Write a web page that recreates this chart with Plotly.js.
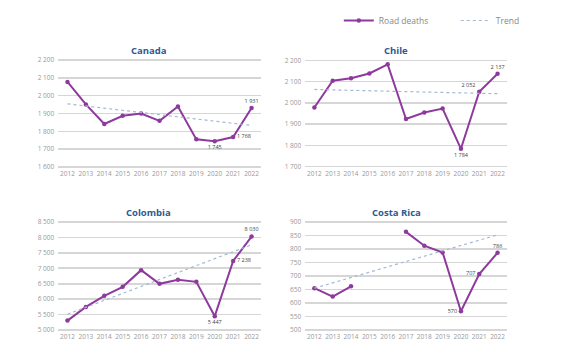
<!DOCTYPE html>
<html><head><meta charset="utf-8">
<script src="https://cdn.plot.ly/plotly-3.0.1.min.js"></script>
<style>html,body{margin:0;padding:0;background:#fff;}#c{width:573px;height:361px;}</style>
</head><body><div id="c"></div>
<script>
const years = [2012,2013,2014,2015,2016,2017,2018,2019,2020,2021,2022];
const canada = [2077,1951,1841,1887,1900,1859,1939,1755,1745,1768,1931];
const canadaTrend = [1954,1833];
const chile = [1978,2104,2116,2138,2181,1924,1955,1973,1784,2052,2137];
const chileTrend = [2063,2043];
const colombia = [5304,5748,6106,6398,6940,6496,6626,6561,5447,7238,8030];
const colombiaTrend = [5510,7763];
const costaRica = [655,624,662,null,null,863,812,787,570,707,786];
const costaRicaTrend = [655,852];
const trendYears = [2012,2022];
const countries = ["Canada","Chile","Colombia","Costa Rica"];
const yTicks = {
  Canada:[1600,1700,1800,1900,2000,2100,2200],
  Chile:[1700,1800,1900,2000,2100,2200],
  Colombia:[5000,5500,6000,6500,7000,7500,8000,8500],
  "Costa Rica":[500,550,600,650,700,750,800,850,900]
};
const labelPos = {
  Canada:{8:"bottom center",9:"middle right",10:"top center"},
  Chile:{8:"bottom center",9:"top left",10:"top center"},
  Colombia:{8:"bottom center",9:"middle right",10:"top center"},
  "Costa Rica":{8:"middle left",9:"middle left",10:"top center"}
};
function fmt(v){ return String(v).replace(/\B(?=(\d{3})+(?!\d))/g," "); }

const series = {Canada:canada, Chile:chile, Colombia:colombia, "Costa Rica":costaRica};
const trends = {Canada:canadaTrend, Chile:chileTrend, Colombia:colombiaTrend, "Costa Rica":costaRicaTrend};
const purple = "#8E3A9D";
const trendCol = "#A3B9D6";

const traces = [];
countries.forEach((c,i)=>{
  const ax = i===0 ? "" : String(i+1);
  const vals = series[c];
  const text = vals.map((v,k)=> labelPos[c][k] && v!=null ? fmt(v) : "");
  const pos = vals.map((v,k)=> labelPos[c][k] || "top center");
  traces.push({
    x: years, y: vals, type:"scatter", mode:"lines+markers+text",
    line:{color:purple, width:2}, marker:{color:purple, size:4.5},
    text:text, textposition:pos, textfont:{size:5.5, color:"#444", family:"Open Sans"},
    connectgaps:false,
    name:"Road deaths", showlegend: i===0,
    xaxis:"x"+ax, yaxis:"y"+ax, hoverinfo:"skip"
  });
  traces.push({
    x: trendYears, y: trends[c], type:"scatter", mode:"lines",
    line:{color:trendCol, width:1.2, dash:"dot"},
    name:"Trend", showlegend: i===0,
    xaxis:"x"+ax, yaxis:"y"+ax, hoverinfo:"skip"
  });
});

const xDomL = [59/573, 264/573], xDomR = [309/573, 513/573];
const yDomT = [1-168.8/361, 1-58.2/361], yDomB = [1-331.5/361, 1-220.5/361];
const ranges = {Canada:[1590,2210], Chile:[1690,2210], Colombia:[4950,8550], "Costa Rica":[495,905]};
const doms = [[xDomL,yDomT],[xDomR,yDomT],[xDomL,yDomB],[xDomR,yDomB]];

const layout = {
  width:573, height:361, margin:{l:0,r:0,t:0,b:0},
  paper_bgcolor:"#fff", plot_bgcolor:"#fff",
  font:{family:"Open Sans", color:"#999"},
  showlegend:true,
  legend:{orientation:"h", x:343/573, y:1-6/361, xanchor:"left", yanchor:"top",
    font:{size:8.5, color:"#888"}, entrywidth:72, entrywidthmode:"pixels", traceorder:"normal"},
  annotations:[]
};
const titlePos = [[151,50],[401,50],[150,212],[401,212]];
countries.forEach((c,i)=>{
  const ax = i===0 ? "" : String(i+1);
  const [xd,yd] = doms[i];
  layout["xaxis"+ax] = {domain:xd, range:[2011.5,2022.5], anchor:"y"+ax,
    tickmode:"array", tickvals:years, ticktext:years.map(String), tickangle:0,
    showgrid:false, zeroline:false, showline:false, ticks:"",
    tickfont:{size:6.5, color:"#999"}, fixedrange:true};
  layout["yaxis"+ax] = {domain:yd, range:ranges[c], anchor:"x"+ax,
    tickmode:"array", tickvals:yTicks[c], ticktext:yTicks[c].map(fmt),
    showgrid:true, gridcolor:"#d6d6d6", gridwidth:1.6, zeroline:false, showline:false,
    ticks:"", ticklabelstandoff:3, tickfont:{size:6.5, color:"#999"}, fixedrange:true};
  layout.annotations.push({text:"<b>"+c+"</b>", xref:"paper", yref:"paper",
    x:titlePos[i][0]/573, y:1-titlePos[i][1]/361, xanchor:"center", yanchor:"middle",
    showarrow:false, font:{size:9.5, color:"#2C5A94", family:"Open Sans"}});
});
Plotly.newPlot("c", traces, layout, {displayModeBar:false, staticPlot:true});
</script></body></html>
